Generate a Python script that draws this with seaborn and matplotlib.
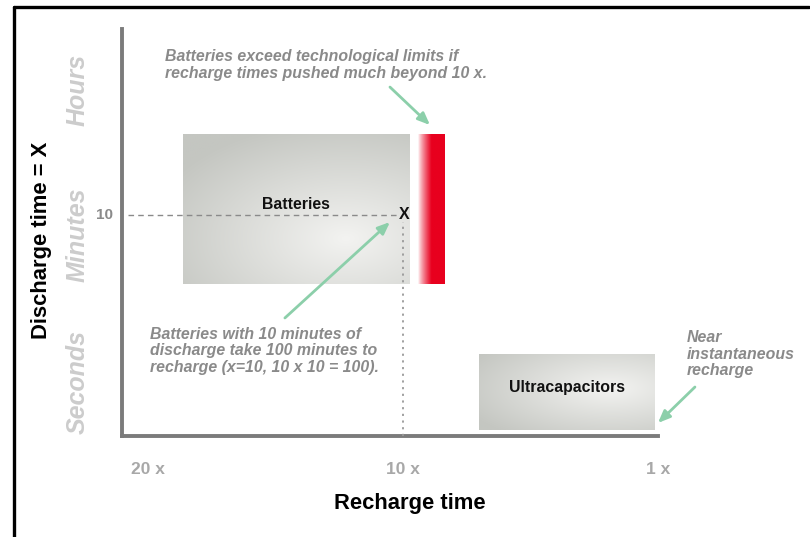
import numpy as np
import matplotlib
matplotlib.use("Agg")
import matplotlib.pyplot as plt
from matplotlib.lines import Line2D
import seaborn as sns

# data (positions on a relative recharge / discharge scale)
recharge_labels = ["20 x", "10 x", "1 x"]
recharge_pos = [0, 1, 2]
discharge_bands = ["Seconds", "Minutes", "Hours"]
band_pos = [0.40, 1.48, 2.55]

techs = ["Batteries", "Ultracapacitors"]
tech_x0 = [0.137, 1.298]
tech_x1 = [1.024, 1.988]
tech_y0 = [1.12, 0.044]
tech_y1 = [2.225, 0.604]

# zone where batteries exceed their limits
limit_x = [1.059, 1.161]
limit_y = [1.12, 2.225]

# worked example: 10 minutes discharge -> 10 x recharge
example_recharge = 1.0
example_discharge = 1.63
example_label = "10"

notes = [
    "Batteries exceed technological limits if\nrecharge times pushed much beyond 10 x.",
    "Batteries with 10 minutes of\ndischarge take 100 minutes to\nrecharge (x=10, 10 x 10 = 100).",
    "Near\ninstantaneous\nrecharge",
]
note_xy = [(0.067, 2.735), (0.008, 0.627), (2.114, 0.604)]
arrow_tail = [(0.949, 2.572), (0.537, 0.870), (2.145, 0.361)]
arrow_head = [(1.106, 2.292), (0.949, 1.577), (2.0, 0.096)]

sns.set_theme(style="white")
plt.rcParams['font.family'] = ['Liberation Sans', 'DejaVu Sans']

fig = plt.figure(figsize=(8.1, 5.37), dpi=100)
ax = fig.add_axes([0.1512, 0.1881, 0.6611, 0.7579])
ax.set_xlim(-0.1, 2.0)
ax.set_ylim(0, 3)


def gray_box(cx, cy, dark, light, w=120, h=80):
    xx, yy = np.meshgrid(np.linspace(0, 1, w), np.linspace(0, 1, h))
    t = np.clip(np.sqrt(((xx - cx) / 0.9) ** 2 + ((yy - cy) / 0.8) ** 2), 0, 1)
    dark = np.array(matplotlib.colors.to_rgb(dark))
    light = np.array(matplotlib.colors.to_rgb(light))
    return light * (1 - t[..., None]) + dark * t[..., None]


# technology boxes
spots = [(0.72, 0.7), (0.75, 0.45)]
for i, name in enumerate(techs):
    img = gray_box(spots[i][0], spots[i][1], "#c4c6c1", "#f3f3f1")
    ax.imshow(img, extent=(tech_x0[i], tech_x1[i], tech_y0[i], tech_y1[i]),
              aspect="auto", origin="upper", zorder=1, interpolation="bilinear")
    ax.text((tech_x0[i] + tech_x1[i]) / 2, (tech_y0[i] + tech_y1[i]) / 2 + 0.035, name,
            ha="center", va="center", fontsize=11.4, fontweight="bold", color="#111111", zorder=4)

# red limit bar: white to red gradient
w = 100
ramp = np.clip(np.linspace(0, 1, w) / 0.5, 0, 1) ** 0.8
red = np.array(matplotlib.colors.to_rgb("#e8001e"))
bar = np.ones((2, w, 3)) * (1 - ramp[None, :, None]) + red * ramp[None, :, None]
ax.imshow(bar, extent=(limit_x[0], limit_x[1], limit_y[0], limit_y[1]),
          aspect="auto", zorder=1, interpolation="bilinear")

# guide lines for the worked example
ax.plot([-0.08, example_recharge - 0.025], [example_discharge] * 2,
        color="#8a8a8a", lw=1, linestyle=(0, (4, 3)), zorder=3)
ax.plot([example_recharge] * 2, [0, example_discharge - 0.055],
        color="#999999", lw=1.3, linestyle=(0, (1.2, 2.5)), zorder=3)
ax.text(example_recharge + 0.004, example_discharge, "X", ha="center", va="center",
        fontsize=11.5, fontweight="bold", color="#111111", zorder=4)
ax.text(-0.0327, example_discharge, example_label, transform=ax.get_yaxis_transform(),
        ha="center", va="center", fontsize=11, fontweight="bold", color="#8a8a8a")

# annotations with green arrows
for txt, xy, tail, head in zip(notes, note_xy, arrow_tail, arrow_head):
    ax.text(xy[0], xy[1], txt, ha="left", va="center", fontsize=11.4, fontweight="bold",
            fontstyle="italic", color="#8a8a8a", linespacing=1.12, zorder=5)
    ax.annotate("", xy=head, xytext=tail, annotation_clip=False, zorder=5,
                arrowprops=dict(arrowstyle="-|>,head_length=0.6,head_width=0.25",
                                color="#8ccfaa", lw=2, shrinkA=0, shrinkB=0))

# axes styling
for side in ["top", "right"]:
    ax.spines[side].set_visible(False)
for side in ["left", "bottom"]:
    ax.spines[side].set_color("#7b7b7b")
    ax.spines[side].set_linewidth(2.8)
ax.set_xticks(recharge_pos, recharge_labels)
ax.set_yticks([])
ax.tick_params(axis="x", length=0, pad=19, labelsize=12.5, labelcolor="#a8a8a8")
for lab in ax.get_xticklabels():
    lab.set_fontweight("bold")

for name, y in zip(discharge_bands, band_pos):
    ax.text(-0.083, y, name, transform=ax.get_yaxis_transform(), rotation=90,
            ha="center", va="center", fontsize=18, fontweight="bold",
            fontstyle="italic", color="#cccccc")

fig.text(42 / 810, 1 - 240 / 537, "Discharge time = X", rotation=90, ha="center",
         va="center", fontsize=15.8, fontweight="bold", color="#000000")
fig.text(410 / 810, 1 - 503 / 537, "Recharge time", ha="center", va="center",
         fontsize=15.8, fontweight="bold", color="#000000")

# outer frame (left and top only)
fig.add_artist(Line2D([13.5 / 810, 13.5 / 810], [0, 1 - 6.5 / 537], color="black", lw=2.4))
fig.add_artist(Line2D([13.5 / 810, 809 / 810], [1 - 6.5 / 537, 1 - 6.5 / 537], color="black", lw=2.4))

fig.savefig("out.png", dpi=100)
